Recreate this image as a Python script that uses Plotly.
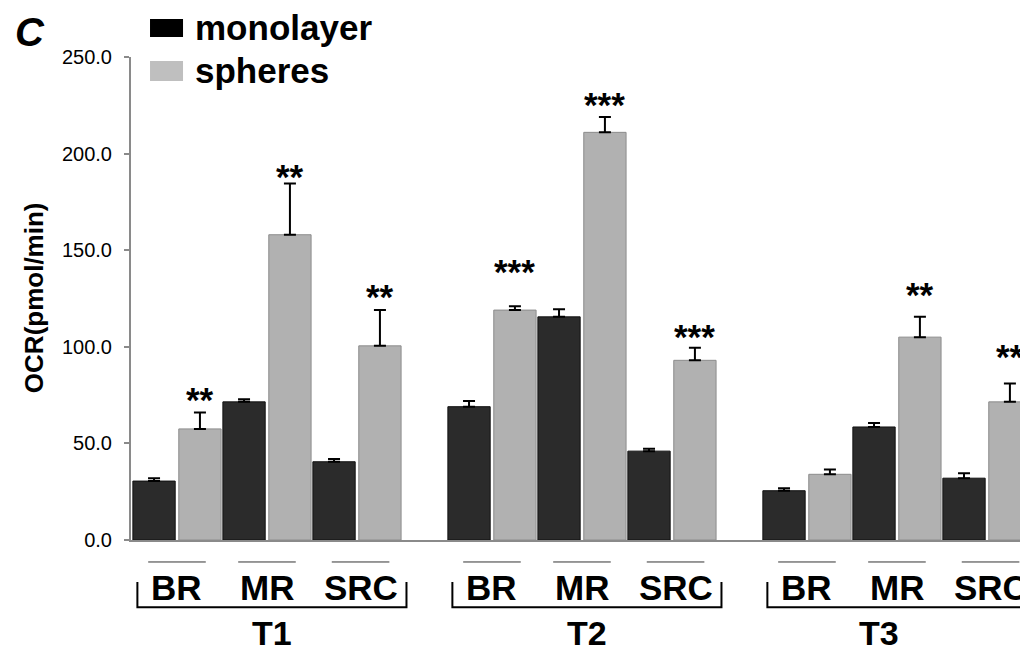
import plotly.graph_objects as go

# ---- data ----
groups = ["T1", "T2", "T3"]
categories = ["BR", "MR", "SRC"]
mono = [30.5, 71.5, 40.5, 69.0, 115.5, 46.0, 25.5, 58.5, 32.0]
mono_err = [1.4, 1.3, 1.4, 3.0, 4.0, 1.2, 1.3, 2.0, 2.5]
sph = [57.5, 158.0, 100.5, 119.0, 211.0, 93.0, 34.0, 105.0, 71.5]
sph_err = [8.5, 26.5, 18.5, 2.0, 8.0, 6.5, 2.5, 10.5, 9.5]
stars = ["**", "**", "**", "***", "***", "***", "", "**", "**"]
star_y = [76.0, 191.5, 129.4, 142.3, 228.8, 108.7, None, 130.4, 98.3]
y_ticks = [0, 50, 100, 150, 200, 250]

FONT = "Liberation Sans, Arial, sans-serif"
GROUP_STEP = 3.5
centers = [g * GROUP_STEP + i for g in range(len(groups)) for i in range(len(categories))]
off = 0.255
bw = 0.47

fig = go.Figure()
fig.add_trace(go.Bar(
    x=[c - off for c in centers], y=mono, width=bw, name="monolayer",
    marker=dict(color="#2b2b2b", line=dict(color="#111111", width=1)),
    error_y=dict(type="data", array=mono_err, arrayminus=[0] * len(mono_err), symmetric=False,
                 color="black", thickness=2, width=6),
    showlegend=False,
))
fig.add_trace(go.Bar(
    x=[c + off for c in centers], y=sph, width=bw, name="spheres",
    marker=dict(color="#b1b1b1", line=dict(color="#8c8c8c", width=1)),
    error_y=dict(type="data", array=sph_err, arrayminus=[0] * len(sph_err), symmetric=False,
                 color="black", thickness=2, width=6),
    showlegend=False,
))

ann = []
shapes = []
# significance stars
for c, s, yy in zip(centers, stars, star_y):
    if s and yy is not None:
        ann.append(dict(x=c + off, y=yy, xref="x", yref="y", text="<b>%s</b>" % s, showarrow=False,
                        yanchor="bottom", yshift=-28, font=dict(family=FONT, size=35, color="black")))

# category labels & short lines
for k, c in enumerate(centers):
    cat = categories[k % 3]
    lx = c + (0.04 if cat == "SRC" else 0)
    ann.append(dict(x=lx, y=-0.099, xref="x", yref="paper", text="<b>%s</b>" % cat, showarrow=False,
                    yanchor="middle", font=dict(family=FONT, size=35, color="black")))
    shapes.append(dict(type="line", xref="x", yref="paper", x0=lx - 0.32, x1=lx + 0.32,
                       y0=-0.0455, y1=-0.0455, line=dict(color="#333333", width=1)))

# group brackets & labels
for g, name in enumerate(groups):
    first = g * GROUP_STEP
    last = first + 2
    x0, x1 = first - 0.44, last + 0.55
    shapes.append(dict(type="path", xref="x", yref="paper",
                       path="M %f,-0.087 L %f,-0.139 L %f,-0.139 L %f,-0.087" % (x0, x0, x1, x1),
                       line=dict(color="black", width=2)))
    ann.append(dict(x=(x0 + x1) / 2 if g < 2 else first + 0.8, y=-0.193, xref="x", yref="paper",
                    text="<b>%s</b>" % name, showarrow=False, yanchor="middle",
                    font=dict(family=FONT, size=34, color="black")))

# manual legend
shapes.append(dict(type="rect", xref="paper", yref="paper", x0=0.0212, x1=0.058, y0=1.0414, y1=1.0787,
                   fillcolor="black", line=dict(width=0)))
shapes.append(dict(type="rect", xref="paper", yref="paper", x0=0.0212, x1=0.058, y0=0.9503, y1=0.9917,
                   fillcolor="#bfbfbf", line=dict(width=0)))
ann.append(dict(x=0.069, y=1.062, xref="paper", yref="paper", text="<b>monolayer</b>", showarrow=False,
                xanchor="left", yanchor="middle", font=dict(family=FONT, size=35, color="black")))
ann.append(dict(x=0.069, y=0.972, xref="paper", yref="paper", text="<b>spheres</b>", showarrow=False,
                xanchor="left", yanchor="middle", font=dict(family=FONT, size=35, color="black")))

# panel letter
ann.append(dict(x=-0.1126, y=1.1, xref="paper", yref="paper", text="<b><i>C</i></b>", showarrow=False,
                xanchor="center", yanchor="top", borderpad=0, font=dict(family=FONT, size=40, color="black")))
# y title
ann.append(dict(x=-0.108, y=0.501, xref="paper", yref="paper", text="<b>OCR(pmol/min)</b>", showarrow=False,
                textangle=-90, xanchor="center", yanchor="middle", font=dict(family=FONT, size=26, color="black")))

# page has an 8px body margin: figure is 8px smaller so the plot area lands where the reference has it
fig.update_layout(
    width=1020, height=644,
    margin=dict(l=123, r=0, t=49, b=112),
    paper_bgcolor="white", plot_bgcolor="white",
    barmode="overlay",
    annotations=ann, shapes=shapes,
    xaxis=dict(range=[-0.511, 9.456], showticklabels=False, ticks="", showgrid=False, zeroline=False,
               showline=True, linecolor="#8a8a8a", linewidth=2),
    yaxis=dict(range=[0, 250], tickvals=y_ticks, ticktext=["%.1f" % v for v in y_ticks],
               ticks="outside", ticklen=5, tickcolor="#8a8a8a", tickwidth=1.5,
               ticklabelstandoff=8,
               showgrid=False, zeroline=False, showline=True, linecolor="#8a8a8a", linewidth=2,
               tickfont=dict(family=FONT, size=20, color="black")),
)

fig.write_html("out.html")
